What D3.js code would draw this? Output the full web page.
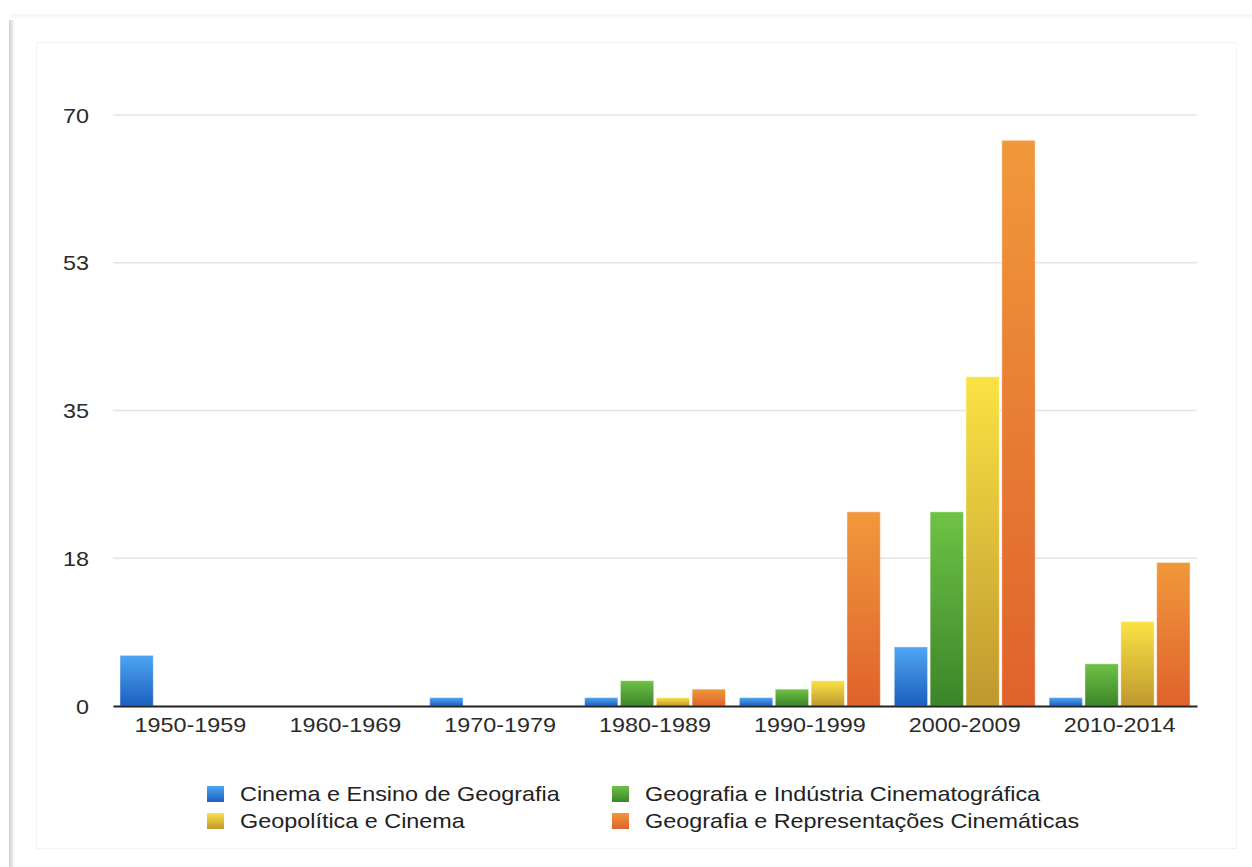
<!DOCTYPE html>
<html>
<head>
<meta charset="utf-8">
<script src="https://cdn.jsdelivr.net/npm/d3@7"></script>
<style>
  body { margin: 0; background: #fff; }
  svg text { font-family: "Liberation Sans", Arial, Helvetica, sans-serif; }
</style>
</head>
<body>
<svg id="chart" width="1252" height="867"></svg>
<script>
// data
var periods = ["1950-1959", "1960-1969", "1970-1979", "1980-1989", "1990-1999", "2000-2009", "2010-2014"];
var seriesNames = ["Cinema e Ensino de Geografia", "Geografia e Indústria Cinematográfica",
                   "Geopolítica e Cinema", "Geografia e Representações Cinemáticas"];
var ensino = [6, 0, 1, 1, 1, 7, 1];
var industria = [0, 0, 0, 3, 2, 23, 5];
var geopolitica = [0, 0, 0, 1, 3, 39, 10];
var representacoes = [0, 0, 0, 2, 23, 67, 17];
var yTicks = [0, 17.5, 35, 52.5, 70];

var series = [ensino, industria, geopolitica, representacoes];
var topColors = ["#4ea6f2", "#6fc246", "#fbe244", "#f1983b"];
var bottomColors = ["#1d5ec0", "#3b8529", "#bf982f", "#df622c"];

var width = 1252, height = 867;
var fontSize = 20, stretch = "scale(1.17,1)";
var svg = d3.select("#chart");
var defs = svg.append("defs");

// card shadow
var sh = defs.append("linearGradient").attr("id", "leftShadow");
sh.append("stop").attr("offset", "0").attr("stop-color", "#cfcfcf");
sh.append("stop").attr("offset", "1").attr("stop-color", "#ffffff");
var sv = defs.append("linearGradient").attr("id", "topShadow").attr("x1", 0).attr("x2", 0).attr("y1", 0).attr("y2", 1);
sv.append("stop").attr("offset", "0").attr("stop-color", "#f4f4f4");
sv.append("stop").attr("offset", "1").attr("stop-color", "#ffffff");

svg.append("rect").attr("x", 10).attr("y", 14).attr("width", width).attr("height", 6).attr("fill", "url(#topShadow)");
svg.append("rect").attr("x", 9).attr("y", 20).attr("width", 6).attr("height", height).attr("fill", "url(#leftShadow)");
svg.append("rect").attr("x", 36.5).attr("y", 42.5).attr("width", 1200).attr("height", 806)
  .attr("fill", "none").attr("stroke", "#f2f2f2");

series.forEach(function(s, i) {
  var g = defs.append("linearGradient").attr("id", "grad" + i)
    .attr("x1", 0).attr("x2", 0).attr("y1", 0).attr("y2", 1);
  g.append("stop").attr("offset", "0").attr("stop-color", topColors[i]);
  g.append("stop").attr("offset", "1").attr("stop-color", bottomColors[i]);
});

var margin = {left: 113, right: 1197, top: 115, bottom: 706};

var x = d3.scaleBand().domain(periods).range([margin.left, margin.right]).paddingInner(0.09).paddingOuter(0.045);
var xs = d3.scaleBand().domain(d3.range(series.length)).range([0, x.bandwidth()]).paddingInner(0.07);
var y = d3.scaleLinear().domain([0, 70]).range([margin.bottom, margin.top]);

// gridlines
svg.append("g").selectAll("line").data(yTicks.slice(1)).join("line")
  .attr("x1", margin.left).attr("x2", margin.right)
  .attr("y1", function(d) { return y(d); }).attr("y2", function(d) { return y(d); })
  .attr("stroke", "#e3e3e3").attr("stroke-width", 1.5);

// y axis labels
var yAxis = d3.axisLeft(y).tickValues(yTicks).tickSize(0).tickPadding(0)
  .tickFormat(function(d) { return Math.round(d); });
var ya = svg.append("g").attr("transform", "translate(89,0)").call(yAxis);
ya.select(".domain").remove();
ya.selectAll("text").attr("font-size", fontSize).attr("transform", stretch)
  .attr("fill", "#2a2a2a").attr("dy", "0.35em").attr("font-family", "Liberation Sans, Arial, sans-serif");

// bars
var groups = svg.append("g").selectAll("g").data(periods).join("g")
  .attr("transform", function(d) { return "translate(" + x(d) + ",0)"; });
groups.selectAll("rect").data(function(d, pi) {
    return series.map(function(s, si) { return {si: si, v: s[pi]}; }).filter(function(e) { return e.v > 0; });
  }).join("rect")
  .attr("x", function(d) { return xs(d.si); })
  .attr("width", xs.bandwidth())
  .attr("y", function(d) { return y(d.v); })
  .attr("height", function(d) { return y(0) - y(d.v); })
  .attr("fill", function(d) { return "url(#grad" + d.si + ")"; })
  .attr("stroke", "rgba(255,255,255,0.45)").attr("stroke-width", 1);

// baseline + x labels
var xAxis = d3.axisBottom(x).tickSize(0).tickPadding(12);
var xa = svg.append("g").attr("transform", "translate(0," + margin.bottom + ")").call(xAxis);
xa.select(".domain").attr("stroke", "#222").attr("stroke-width", 2);
xa.selectAll("text").attr("font-size", fontSize).attr("transform", stretch)
  .attr("fill", "#2a2a2a").attr("font-family", "Liberation Sans, Arial, sans-serif");

// legend
var legendPos = [[207, 786], [612, 786], [207, 813], [612, 813]];
var leg = svg.append("g").selectAll("g").data(seriesNames).join("g")
  .attr("transform", function(d, i) { return "translate(" + legendPos[i][0] + "," + legendPos[i][1] + ")"; });
leg.append("rect").attr("width", 17).attr("height", 16)
  .attr("fill", function(d, i) { return "url(#grad" + i + ")"; });
leg.append("g").attr("transform", "translate(33,15)")
  .append("text").attr("font-size", fontSize).attr("transform", stretch)
  .attr("fill", "#222").text(function(d) { return d; });
</script>
</body>
</html>
